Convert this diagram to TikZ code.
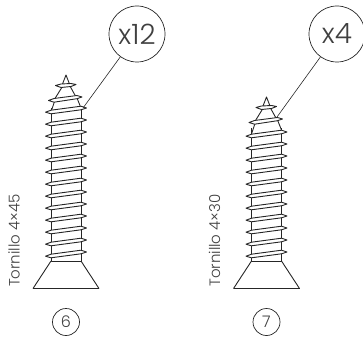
\documentclass[tikz,border=0pt]{standalone}
\usepackage{fontspec}
\setmainfont{Poppins}[UprightFont=* Light]
\begin{document}
\begin{tikzpicture}[x=1pt,y=-1pt,
  line/.style={draw=black!85,line width=0.9pt,line join=round},
  thread/.style={line,fill=white},
  bigcirc/.style={circle,draw=black!85,line width=0.7pt,minimum size=56pt,inner sep=0pt,font=\fontsize{28}{28}\selectfont,text=black!75},
  smallcirc/.style={circle,draw=black!85,line width=0.7pt,minimum size=27pt,inner sep=0pt,font=\fontsize{16}{16}\selectfont,text=black!75},
  lead/.style={draw=black!85,line width=0.6pt},
  vlabel/.style={rotate=90,font=\fontsize{15}{15}\selectfont,text=black!75,inner sep=0pt}]
\useasboundingbox (0,0) rectangle (363,339);
\newcommand{\threadat}[2]{%
  \path[thread] (#1-20.5,#2+4.2) -- (#1-15,#2+2.2) -- (#1+15,#2-1.8) -- (#1+20.5,#2) -- (#1+15,#2+1.8) -- (#1-15,#2+5.8) -- cycle;}
\newcommand{\screwhead}[2]{%
  \draw[line] (#1-15,#2) -- (#1-15,261) -- (#1+15,261) -- (#1+15,#2);
  \draw[line] (#1-15,261) -- (#1-33,288.5);
  \draw[line] (#1+15,261) -- (#1+33,288.5);
  \draw[draw=black!85,line width=1.1pt] (#1-33,288.5) -- (#1+33,288.5);}
\newcommand{\screwtop}[2]{%
  \draw[line] (#1-3.5,#2+9) -- (#1,#2) -- (#1+3.5,#2+9);
  \draw[line] (#1-4.5,#2+13) -- (#1-11,#2+23.5);
  \draw[line] (#1+4.5,#2+12) -- (#1+10,#2+22);
  \draw[line] (#1-11,#2+25) -- (#1-15,#2+37);
  \draw[line] (#1+11,#2+23) -- (#1+15,#2+33);
  \path[thread] (#1-10.5,#2+10.5) -- (#1-5,#2+9) -- (#1+5,#2+8.5) -- (#1+10,#2+9.5) -- (#1+5,#2+11.5) -- (#1-5,#2+12.5) -- cycle;
  \path[thread] (#1-17.5,#2+25.5) -- (#1-12,#2+23.5) -- (#1+11,#2+20.5) -- (#1+16,#2+22) -- (#1+11,#2+23.7) -- (#1-12,#2+27.2) -- cycle;}

\screwhead{66}{108}
\screwtop{66}{75}
\foreach \y in {108,120,...,252}{\threadat{66}{\y}}
\screwhead{266.5}{128}
\screwtop{266.5}{97}
\foreach \y in {132,144,...,252}{\threadat{266.5}{\y}}

\node[bigcirc] (q6) at (137,34) {x12};
\node[bigcirc] (q7) at (337,34) {x4};
\coordinate (e6) at (83,108);
\coordinate (e7) at (277,117);
\draw[lead] (q6) -- (e6);
\draw[lead] (q7) -- (e7);
\node[smallcirc] (n6) at (66,322) {6};
\node[smallcirc] (n7) at (266.5,322) {7};
\node[vlabel] (l6) at (14,240.5) {Tornillo 4×45};
\node[vlabel] (l7) at (214.5,240.5) {Tornillo 4×30};
\end{tikzpicture}
\end{document}
